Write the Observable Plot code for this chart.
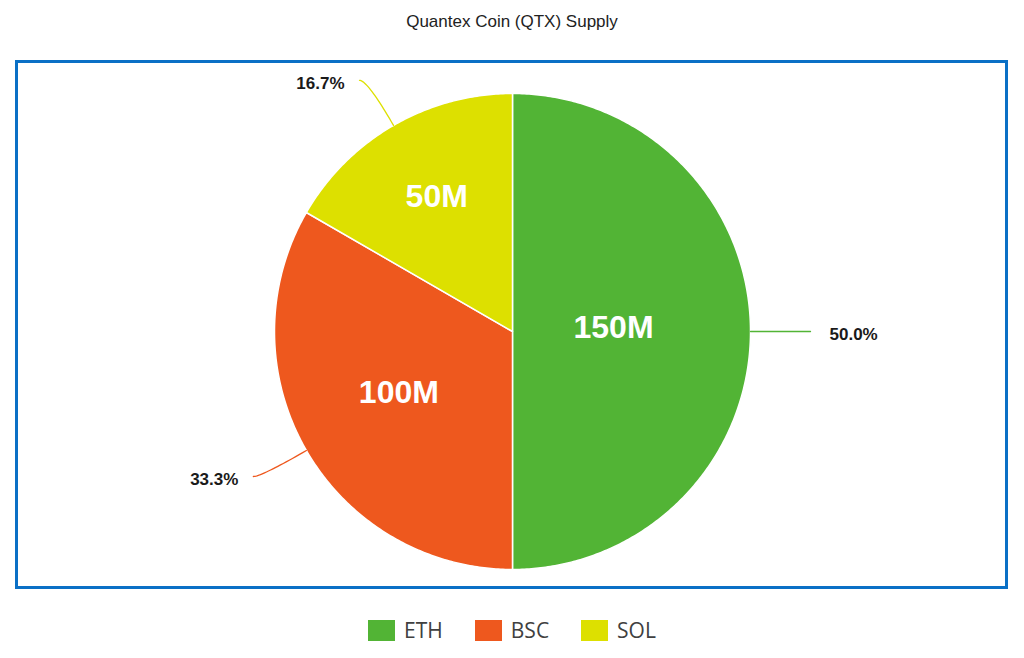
<!DOCTYPE html>
<html>
<head>
<meta charset="utf-8">
<script src="https://cdn.jsdelivr.net/npm/d3@7"></script>
<script src="https://cdn.jsdelivr.net/npm/@observablehq/plot@0.6"></script>
<style>
  html, body { margin: 0; padding: 0; background: #fff; }
  body { width: 1024px; height: 658px; overflow: hidden; font-family: "Liberation Sans", Arial, sans-serif; }
  #title { height: 60px; line-height: 44px; text-align: center; font-size: 17px; color: #222; }
  #box { margin-left: 15px; width: 987px; height: 523px; border: 3px solid #0a70c6; }
  #box svg { display: block; }
  #legend { margin-top: 30px; height: 22px; display: flex; justify-content: center; align-items: center;
            font-family: "Open Sans", sans-serif; font-size: 21px; color: #404040; }
  .item { display: flex; align-items: center; margin: 0 16px; }
  .sw { width: 27px; height: 21px; margin-right: 9px; }
</style>
</head>
<body>
<div id="title">Quantex Coin (QTX) Supply</div>
<div id="box"></div>
<div id="legend"></div>
<script>
// ---- data ----
const categories = ["ETH", "BSC", "SOL"];
const values = [150, 100, 50];            // millions
const valueLabels = ["150M", "100M", "50M"];
const colors = ["#52b435", "#ee581e", "#dde000"];

// ---- layout ----
const W = 987, H = 523;
const CX = 494, CY = 268, R = 238;
const ELBOW = 52, TAIL = 8;

const total = d3.sum(values);
const arcs = d3.pie().sort(null).value(d => d.value)(
  categories.map((c, i) => ({label: c, value: values[i], valueLabel: valueLabels[i]}))
);

const pt = (a, r) => [CX + r * Math.sin(a), CY - r * Math.cos(a)];

const slices = arcs.map(a => {
  const n = Math.max(8, Math.ceil((a.endAngle - a.startAngle) / 0.01));
  const ring = [[CX, CY]];
  for (let k = 0; k <= n; k++) ring.push(pt(a.startAngle + (a.endAngle - a.startAngle) * k / n, R));
  ring.push([CX, CY]);
  return {type: "Feature", properties: {label: a.data.label}, geometry: {type: "Polygon", coordinates: [ring]}};
});

// centroid of sector for inner labels
const inner = arcs.map(a => {
  const th = a.endAngle - a.startAngle, mid = (a.startAngle + a.endAngle) / 2;
  const d = 4 * R * Math.sin(th / 2) / (3 * th);
  const [x, y] = pt(mid, d);
  return {x, y, text: a.data.valueLabel};
});

// leader lines + percent labels
const leaders = [], outer = [];
arcs.forEach(a => {
  const mid = (a.startAngle + a.endAngle) / 2;
  const p0 = pt(mid, R), c = pt(mid, R + ELBOW);
  const side = Math.sin(mid) >= 0 ? 1 : -1;
  const p2 = [c[0] + side * TAIL, c[1]];
  for (let k = 0; k <= 24; k++) {
    const t = k / 24;
    leaders.push({
      label: a.data.label,
      x: (1 - t) * (1 - t) * p0[0] + 2 * (1 - t) * t * c[0] + t * t * p2[0],
      y: (1 - t) * (1 - t) * p0[1] + 2 * (1 - t) * t * c[1] + t * t * p2[1]
    });
  }
  outer.push({
    x: p2[0] + side * (side > 0 ? 19 : 15), y: p2[1] + 3,
    anchor: side > 0 ? "start" : "end",
    text: (a.data.value / total * 100).toFixed(1) + "%"
  });
});

const color = {domain: categories, range: colors};
const font = "Liberation Sans, Arial, sans-serif";

const plot = Plot.plot({
  width: W, height: H, margin: 0,
  projection: {type: "identity"},
  color,
  marks: [
    Plot.geo(slices, {fill: d => d.properties.label, stroke: "white", strokeWidth: 1.5}),
    Plot.line(leaders, {x: "x", y: "y", z: "label", stroke: "label", strokeWidth: 1.3}),
    Plot.text(inner, {x: "x", y: "y", text: "text", dy: -4, fill: "white", fontSize: 32, fontWeight: "bold",
      fontFamily: font}),
    Plot.text(outer.filter(d => d.anchor === "start"), {x: "x", y: "y", text: "text", textAnchor: "start",
      fill: "#1a1a1a", fontSize: 17, fontWeight: "bold", fontFamily: font}),
    Plot.text(outer.filter(d => d.anchor === "end"), {x: "x", y: "y", text: "text", textAnchor: "end",
      fill: "#1a1a1a", fontSize: 17, fontWeight: "bold", fontFamily: font})
  ]
});
document.getElementById("box").appendChild(plot);

// legend
const lg = d3.select("#legend");
categories.forEach((c, i) => {
  const it = lg.append("div").attr("class", "item");
  it.append("div").attr("class", "sw").style("background", colors[i]);
  it.append("span").text(c);
});
</script>
</body>
</html>
